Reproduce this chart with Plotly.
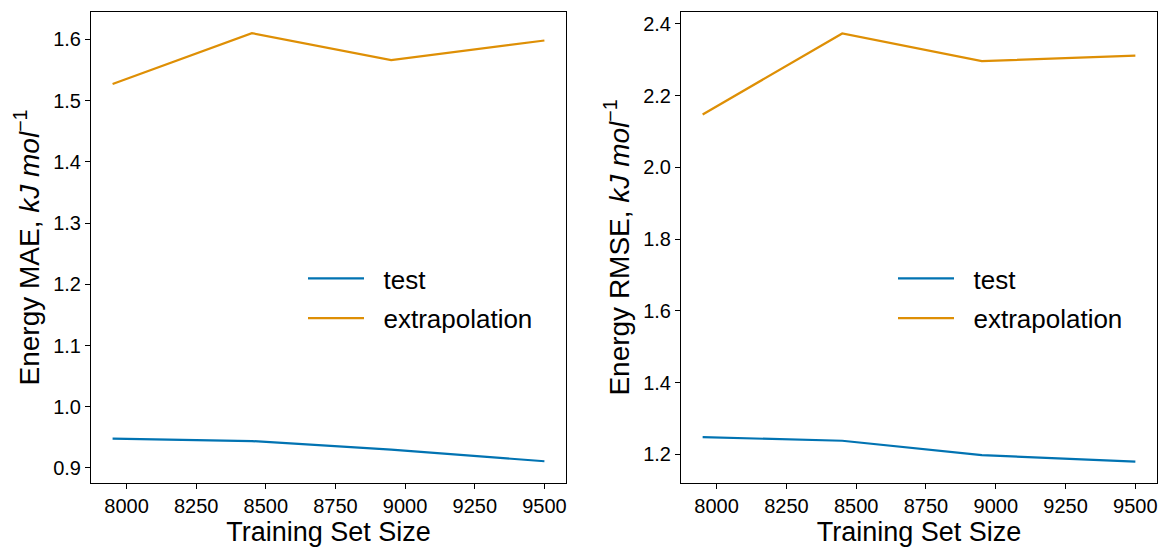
import plotly.graph_objects as go
from plotly.subplots import make_subplots

train_size = [7950, 8450, 8950, 9500]
mae_test = [0.948, 0.944, 0.930, 0.911]
mae_extrap = [1.527, 1.610, 1.566, 1.598]
rmse_test = [1.248, 1.238, 1.198, 1.180]
rmse_extrap = [2.147, 2.373, 2.296, 2.311]
series_names = ["test", "extrapolation"]

x_ticks = [8000, 8250, 8500, 8750, 9000, 9250, 9500]
mae_ticks = [0.9, 1.0, 1.1, 1.2, 1.3, 1.4, 1.5, 1.6]
rmse_ticks = [1.2, 1.4, 1.6, 1.8, 2.0, 2.2, 2.4]

BLUE = "#0173B2"
ORANGE = "#DE8F05"
FONT = "Liberation Sans, Arial, Helvetica, sans-serif"
PAD = "\u00a0\u00a0"

W, H = 1159, 547
ML, MR, MT, MB = 91, 2, 12, 64
PW = W - ML - MR
PH = H - MT - MB

fig = make_subplots(rows=1, cols=2)

fig.add_trace(go.Scatter(x=train_size, y=mae_test, mode="lines", name=PAD + series_names[0],
                         line=dict(color=BLUE, width=2.2), legend="legend", legendgroup="a"), 1, 1)
fig.add_trace(go.Scatter(x=train_size, y=mae_extrap, mode="lines", name=PAD + series_names[1],
                         line=dict(color=ORANGE, width=2.2), legend="legend", legendgroup="b"), 1, 1)
fig.add_trace(go.Scatter(x=train_size, y=rmse_test, mode="lines", name=PAD + series_names[0],
                         line=dict(color=BLUE, width=2.2), legend="legend2", legendgroup="c"), 1, 2)
fig.add_trace(go.Scatter(x=train_size, y=rmse_extrap, mode="lines", name=PAD + series_names[1],
                         line=dict(color=ORANGE, width=2.2), legend="legend2", legendgroup="d"), 1, 2)

axis_common = dict(showline=True, linecolor="black", linewidth=1, mirror=True,
                   ticks="outside", ticklen=5, tickwidth=1, tickcolor="black",
                   showgrid=False, zeroline=False, automargin=False,
                   tickfont=dict(size=20, color="black", family=FONT))
title_font = dict(size=27, color="black", family=FONT)

fig.update_xaxes(**axis_common, tickvals=x_ticks,
                 title=dict(text="Training Set Size", font=title_font, standoff=4))
fig.update_xaxes(domain=[0, 475 / PW], range=[7872.5, 9577.5], row=1, col=1)
fig.update_xaxes(domain=[590 / PW, 1], range=[7872.5, 9577.5], row=1, col=2)

fig.update_yaxes(**axis_common, domain=[0, 1])
fig.update_yaxes(range=[0.8755, 1.6445], tickvals=mae_ticks, tickformat=".1f",
                 title=dict(text="Energy MAE, <i>kJ mol</i><sup>−1</sup>",
                            font=dict(size=28, color="black", family=FONT), standoff=5),
                 row=1, col=1)
fig.update_yaxes(range=[1.1203, 2.4327], tickvals=rmse_ticks, tickformat=".1f",
                 title=dict(text="Energy RMSE, <i>kJ mol</i><sup>−1</sup>",
                            font=dict(size=28, color="black", family=FONT), standoff=5),
                 row=1, col=2)

legend_common = dict(bgcolor="rgba(0,0,0,0)", borderwidth=0,
                     font=dict(size=26, color="black", family=FONT),
                     xanchor="left", yanchor="middle", itemwidth=56, tracegroupgap=3)
ly = 1 - (298.5 - MT) / PH
fig.update_layout(
    width=W, height=H,
    margin=dict(l=ML, r=MR, t=MT, b=MB),
    paper_bgcolor="white", plot_bgcolor="white",
    font=dict(family=FONT, color="black"),
    legend=dict(**legend_common, x=(303 - ML) / PW, y=ly),
    legend2=dict(**legend_common, x=(893 - ML) / PW, y=ly),
)

fig.write_html("out.html", config={"displayModeBar": False},
               post_script="document.body.style.margin='0px';document.body.style.padding='0px';")
